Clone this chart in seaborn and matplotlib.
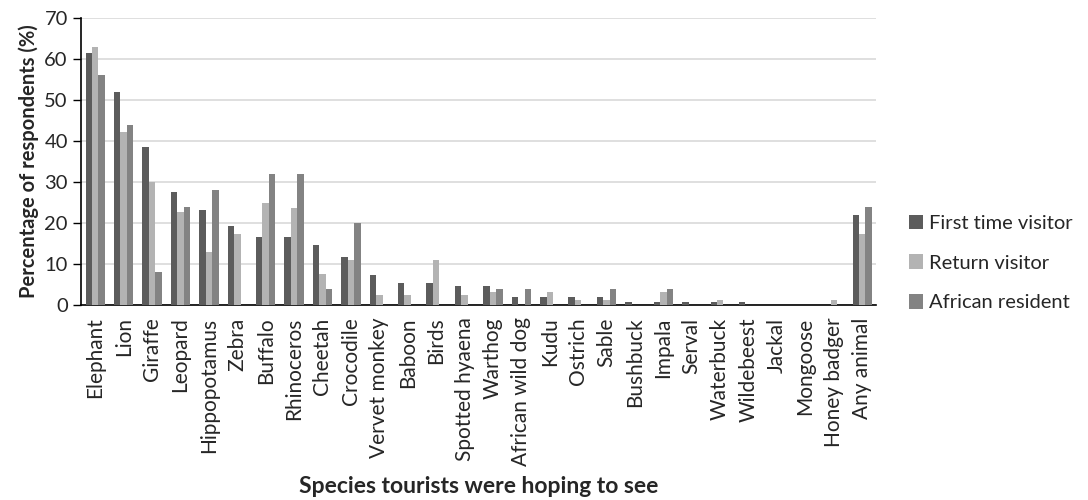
import numpy as np
import pandas as pd
import matplotlib
matplotlib.use("Agg")
import matplotlib.pyplot as plt
import seaborn as sns

species = ["Elephant", "Lion", "Giraffe", "Leopard", "Hippopotamus", "Zebra",
           "Buffalo", "Rhinoceros", "Cheetah", "Crocodile", "Vervet monkey",
           "Baboon", "Birds", "Spotted hyaena", "Warthog", "African wild dog",
           "Kudu", "Ostrich", "Sable", "Bushbuck", "Impala", "Serval",
           "Waterbuck", "Wildebeest", "Jackal", "Mongoose", "Honey badger",
           "Any animal"]

first_time = [61.5, 52.0, 38.5, 27.5, 23.1, 19.3, 16.6, 16.6, 14.7, 11.7, 7.2,
              5.3, 5.3, 4.6, 4.6, 2.0, 2.0, 2.0, 2.0, 0.8, 0.8, 0.8,
              0.8, 0.8, 0.0, 0.0, 0.0, 21.9]
return_visitor = [63.0, 42.2, 30.1, 22.6, 12.9, 17.4, 24.9, 23.7, 7.6, 10.9, 2.4,
                  2.4, 11.0, 2.4, 3.1, 0.0, 3.1, 1.1, 1.1, 0.0, 3.1, 0.0,
                  1.2, 0.0, 0.0, 0.0, 1.1, 17.3]
african_resident = [56.0, 44.0, 8.0, 24.0, 28.0, 0.0, 32.0, 32.0, 4.0, 20.0, 0.0,
                    0.0, 0.0, 0.0, 4.0, 4.0, 0.0, 0.0, 4.0, 0.0, 4.0, 0.0,
                    0.0, 0.0, 0.0, 0.0, 0.0, 24.0]

groups = ["First time visitor", "Return visitor", "African resident"]
colors = ["#5c5c5c", "#b3b3b3", "#838383"]

df = pd.DataFrame({
    "species": species * 3,
    "group": np.repeat(groups, len(species)),
    "pct": first_time + return_visitor + african_resident,
})

sns.set_theme(style="white")
plt.rcParams["font.family"] = ["Lato", "DejaVu Sans"]

fig = plt.figure(figsize=(10.88, 5.0), dpi=100)
ax = fig.add_axes([0.0745, 0.39, 0.731, 0.574])

sns.barplot(data=df, x="species", y="pct", hue="group", order=species,
            hue_order=groups, palette=colors, width=0.68, gap=0,
            saturation=1, errorbar=None, linewidth=0, ax=ax, zorder=3)

ax.set_ylim(0, 70)
ax.set_yticks(range(0, 71, 10))
ax.set_xlim(-0.5, len(species) - 0.5)
ax.yaxis.grid(True, color="#d9d9d9", linewidth=1.2, zorder=0)
ax.set_axisbelow(True)
for s in ["top", "right"]:
    ax.spines[s].set_visible(False)
for s in ["left", "bottom"]:
    ax.spines[s].set_color("black")
    ax.spines[s].set_linewidth(1.2)

ax.tick_params(axis="y", which="both", left=True, length=5.5, width=1,
               color="black", labelsize=14.5, pad=4)
ax.tick_params(axis="x", bottom=False, labelsize=15, pad=3)
plt.setp(ax.get_xticklabels(), rotation=90)

ax.set_xlabel("Species tourists were hoping to see", fontsize=16.5,
              fontweight="bold", labelpad=7)
ax.set_ylabel("Percentage of respondents (%)", fontsize=14.5,
              fontweight="bold", labelpad=4)

leg = ax.legend(loc="center left", bbox_to_anchor=(1.018, 0.146),
                frameon=False, fontsize=14.5, handlelength=0.72,
                handleheight=0.72, handletextpad=0.3, labelspacing=1.12)

fig.savefig("out.png", dpi=100, facecolor="white")
